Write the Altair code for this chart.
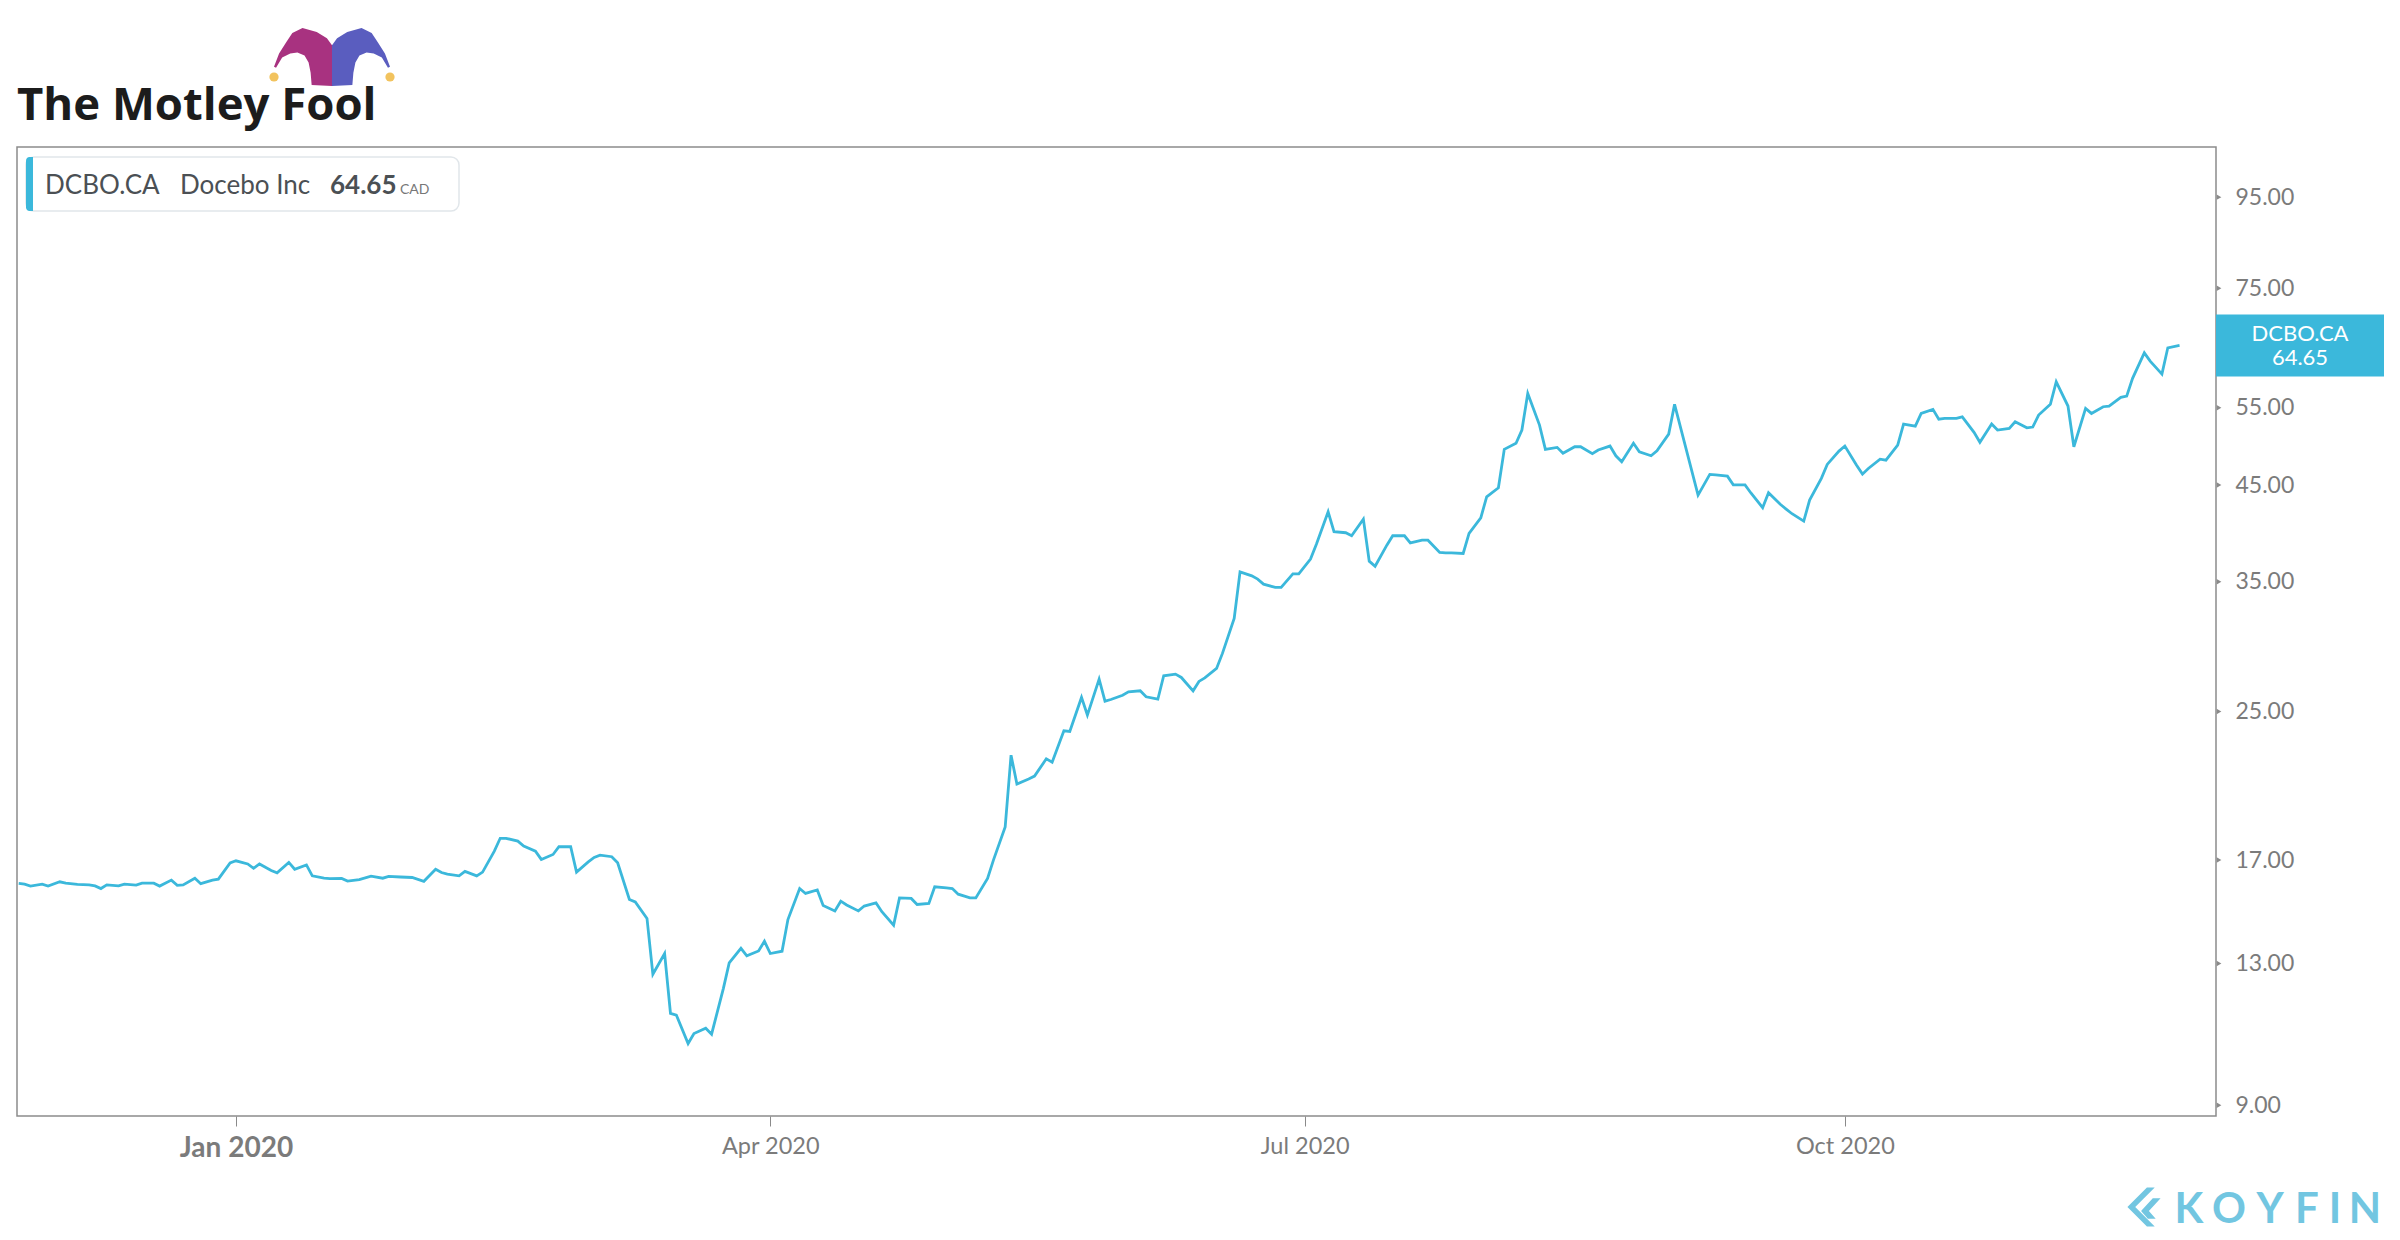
import altair as alt
import pandas as pd

# ---------------- data ----------------
dates = [
    "2019-11-25", "2019-11-26", "2019-11-27", "2019-11-29", "2019-11-30",
    "2019-12-02", "2019-12-03", "2019-12-05", "2019-12-07", "2019-12-08",
    "2019-12-09", "2019-12-10", "2019-12-12", "2019-12-13", "2019-12-15",
    "2019-12-16", "2019-12-18", "2019-12-19", "2019-12-21", "2019-12-22",
    "2019-12-23", "2019-12-25", "2019-12-26", "2019-12-28", "2019-12-29",
    "2019-12-31", "2020-01-01", "2020-01-03", "2020-01-04", "2020-01-05",
    "2020-01-07", "2020-01-08", "2020-01-10", "2020-01-11", "2020-01-13",
    "2020-01-14", "2020-01-16", "2020-01-17", "2020-01-19", "2020-01-20",
    "2020-01-22", "2020-01-24", "2020-01-26", "2020-01-27", "2020-01-29",
    "2020-01-31", "2020-02-02", "2020-02-04", "2020-02-05", "2020-02-06",
    "2020-02-08", "2020-02-09", "2020-02-11", "2020-02-12", "2020-02-14",
    "2020-02-15", "2020-02-16", "2020-02-18", "2020-02-19", "2020-02-21",
    "2020-02-22", "2020-02-24", "2020-02-25", "2020-02-27", "2020-02-28",
    "2020-03-01", "2020-03-02", "2020-03-03", "2020-03-05", "2020-03-06",
    "2020-03-08", "2020-03-09", "2020-03-11", "2020-03-12", "2020-03-14",
    "2020-03-15", "2020-03-16", "2020-03-18", "2020-03-19", "2020-03-21",
    "2020-03-22", "2020-03-24", "2020-03-25", "2020-03-27", "2020-03-28",
    "2020-03-30", "2020-03-31", "2020-04-01", "2020-04-03", "2020-04-04",
    "2020-04-06", "2020-04-07", "2020-04-09", "2020-04-10", "2020-04-12",
    "2020-04-13", "2020-04-14", "2020-04-16", "2020-04-17", "2020-04-19",
    "2020-04-20", "2020-04-22", "2020-04-23", "2020-04-25", "2020-04-26",
    "2020-04-28", "2020-04-29", "2020-05-01", "2020-05-02", "2020-05-03",
    "2020-05-05", "2020-05-06", "2020-05-08", "2020-05-09", "2020-05-11",
    "2020-05-12", "2020-05-13", "2020-05-15", "2020-05-16", "2020-05-18",
    "2020-05-19", "2020-05-21", "2020-05-22", "2020-05-24", "2020-05-25",
    "2020-05-27", "2020-05-28", "2020-05-29", "2020-05-31", "2020-06-01",
    "2020-06-03", "2020-06-04", "2020-06-06", "2020-06-07", "2020-06-09",
    "2020-06-10", "2020-06-12", "2020-06-13", "2020-06-14", "2020-06-16",
    "2020-06-17", "2020-06-19", "2020-06-20", "2020-06-22", "2020-06-23",
    "2020-06-24", "2020-06-26", "2020-06-27", "2020-06-29", "2020-06-30",
    "2020-07-02", "2020-07-03", "2020-07-05", "2020-07-06", "2020-07-08",
    "2020-07-09", "2020-07-11", "2020-07-12", "2020-07-13", "2020-07-15",
    "2020-07-16", "2020-07-18", "2020-07-19", "2020-07-21", "2020-07-22",
    "2020-07-24", "2020-07-25", "2020-07-26", "2020-07-28", "2020-07-29",
    "2020-07-31", "2020-08-01", "2020-08-03", "2020-08-04", "2020-08-06",
    "2020-08-07", "2020-08-08", "2020-08-10", "2020-08-11", "2020-08-13",
    "2020-08-14", "2020-08-16", "2020-08-17", "2020-08-19", "2020-08-20",
    "2020-08-22", "2020-08-23", "2020-08-24", "2020-08-26", "2020-08-27",
    "2020-08-29", "2020-08-30", "2020-09-01", "2020-09-02", "2020-09-06",
    "2020-09-08", "2020-09-09", "2020-09-11", "2020-09-12", "2020-09-14",
    "2020-09-15", "2020-09-17", "2020-09-18", "2020-09-20", "2020-09-21",
    "2020-09-22", "2020-09-24", "2020-09-25", "2020-09-27", "2020-09-28",
    "2020-09-30", "2020-10-01", "2020-10-03", "2020-10-04", "2020-10-05",
    "2020-10-07", "2020-10-08", "2020-10-10", "2020-10-11", "2020-10-13",
    "2020-10-14", "2020-10-16", "2020-10-17", "2020-10-18", "2020-10-20",
    "2020-10-21", "2020-10-23", "2020-10-24", "2020-10-26", "2020-10-27",
    "2020-10-29", "2020-10-30", "2020-11-01", "2020-11-02", "2020-11-03",
    "2020-11-05", "2020-11-06", "2020-11-08", "2020-11-09", "2020-11-11",
    "2020-11-12", "2020-11-14", "2020-11-15", "2020-11-17", "2020-11-18",
    "2020-11-19", "2020-11-21", "2020-11-22", "2020-11-24", "2020-11-25",
    "2020-11-27",
]

prices = [
    16.00, 15.97, 15.89, 15.97, 15.89,
    16.07, 16.01, 15.96, 15.94, 15.90,
    15.79, 15.94, 15.90, 15.97, 15.93,
    16.01, 16.01, 15.89, 16.14, 15.92,
    15.94, 16.22, 15.99, 16.14, 16.18,
    16.88, 16.97, 16.83, 16.64, 16.83,
    16.55, 16.45, 16.90, 16.60, 16.79,
    16.32, 16.22, 16.20, 16.21, 16.10,
    16.16, 16.31, 16.22, 16.30, 16.27,
    16.25, 16.09, 16.60, 16.46, 16.39,
    16.32, 16.51, 16.32, 16.48, 17.40,
    17.99, 17.99, 17.86, 17.63, 17.40,
    17.03, 17.25, 17.60, 17.60, 16.48,
    16.92, 17.12, 17.22, 17.15, 16.88,
    15.35, 15.25, 14.61, 12.64, 13.34,
    11.42, 11.37, 10.56, 10.84, 10.99,
    10.82, 12.18, 13.02, 13.52, 13.26,
    13.43, 13.77, 13.34, 13.42, 14.57,
    15.79, 15.59, 15.73, 15.11, 14.90,
    15.28, 15.13, 14.90, 15.09, 15.21,
    14.87, 14.36, 15.41, 15.39, 15.15,
    15.19, 15.86, 15.82, 15.79, 15.56,
    15.41, 15.41, 16.21, 17.00, 18.53,
    22.32, 20.71, 20.98, 21.14, 22.11,
    21.92, 23.78, 23.74, 25.93, 24.77,
    27.19, 25.68, 25.79, 26.08, 26.31,
    26.38, 25.97, 25.81, 27.43, 27.55,
    27.31, 26.38, 27.03, 27.28, 27.96,
    29.07, 31.83, 35.92, 35.55, 35.25,
    34.79, 34.50, 34.50, 35.73, 35.73,
    37.13, 38.60, 41.98, 39.86, 39.76,
    39.45, 41.19, 36.93, 36.45, 38.50,
    39.45, 39.45, 38.73, 39.00, 39.00,
    37.78, 37.74, 37.74, 37.68, 39.69,
    41.33, 43.65, 44.68, 49.37, 50.15,
    51.90, 57.08, 52.58, 49.37, 49.62,
    48.86, 49.70, 49.70, 48.81, 49.28,
    49.79, 48.55, 47.80, 50.15, 49.06,
    48.55, 49.19, 51.36, 55.48, 43.84,
    46.26, 46.21, 46.05, 45.02, 45.02,
    44.08, 42.43, 44.12, 42.81, 42.28,
    41.77, 40.98, 43.27, 45.78, 47.47,
    49.14, 49.79, 47.38, 46.29, 46.98,
    48.13, 48.00, 49.92, 52.72, 52.44,
    54.19, 54.76, 53.39, 53.49, 53.49,
    53.72, 51.59, 50.28, 52.72, 51.90,
    52.13, 53.03, 52.21, 52.31, 53.96,
    55.48, 58.83, 55.24, 49.70, 54.90,
    54.19, 55.14, 55.24, 56.49, 56.68,
    59.36, 63.42, 62.07, 60.01, 64.25,
    64.65,
]

y_ticks = [9, 13, 17, 25, 35, 45, 55, 75, 95]
x_tick_months = [(2020, 1), (2020, 4), (2020, 7), (2020, 10)]
ticker = "DCBO.CA"
company = "Docebo Inc"
currency = "CAD"
brand = "The Motley Fool"
vendor_letters = ["K", "O", "Y", "F", "I", "N"]

# ---------------- styling / layout ----------------
BLUE = "#3bb8db"
GREY = "#7b7b7b"
FONT = "Lato"
W, H = 2199, 969
vendor_letter_x = [2172, 2212, 2253, 2290, 2318, 2348]   # logo layout (pixels)

df = pd.DataFrame({"date": pd.to_datetime(dates), "price": prices})
last_price = prices[-1]

x_scale = alt.Scale(domain=[alt.DateTime(year=2019, month=11, date=24, hours=17),
                            alt.DateTime(year=2020, month=12, date=3, hours=5)])
y_scale = alt.Scale(type="log", domain=[8.75, 108.2])

line = alt.Chart(df).mark_line(color=BLUE, strokeWidth=2.8).encode(
    x=alt.X("date:T", scale=x_scale, axis=alt.Axis(
        values=[alt.DateTime(year=y, month=m, date=1) for y, m in x_tick_months],
        format="%b %Y", title=None, grid=False, domain=False,
        ticks=True, tickSize=10, tickColor="#8a8a8a", tickWidth=1,
        labelColor=GREY, labelFont=FONT, labelPadding=8, labelFlush=False,
        labelFontSize=alt.condition("month(datum.value) == 0", alt.value(28), alt.value(23.5)),
        labelFontWeight=alt.condition("month(datum.value) == 0", alt.value("bold"), alt.value("normal")),
    )),
    y=alt.Y("price:Q", scale=y_scale, axis=alt.Axis(
        orient="right", values=y_ticks, format=".2f", title=None, grid=False,
        domain=False, ticks=False, labelPadding=19, labelColor=GREY,
        labelFont=FONT, labelFontSize=23,
    )),
)

tri = alt.Chart(pd.DataFrame({"tick": y_ticks})).mark_point(
    shape="triangle-right", filled=True, size=30, color="#8a8a8a", opacity=1
).encode(x=alt.value(W + 3), y=alt.Y("tick:Q", scale=y_scale, axis=None))

last_df = pd.DataFrame({"price": [last_price], "t1": [ticker], "t2": [f"{last_price:.2f}"]})
price_box = alt.Chart(last_df).mark_rule(color=BLUE, strokeWidth=62, strokeCap="butt").encode(
    x=alt.value(W), x2=alt.value(W + 168), y=alt.Y("price:Q", scale=y_scale, axis=None))
price_t1 = alt.Chart(last_df).mark_text(color="white", font=FONT, fontSize=22, dy=-11,
                                        align="center", baseline="middle").encode(
    x=alt.value(W + 84), y=alt.Y("price:Q", scale=y_scale, axis=None), text="t1:N")
price_t2 = alt.Chart(last_df).mark_text(color="white", font=FONT, fontSize=22, dy=13,
                                        align="center", baseline="middle").encode(
    x=alt.value(W + 84), y=alt.Y("price:Q", scale=y_scale, axis=None), text="t2:N")

one = pd.DataFrame({"k": [0]})

legend_bg = alt.Chart(one).mark_rect(fill="white", stroke="#e1e6ea", strokeWidth=1.5,
                                     cornerRadius=8).encode(
    x=alt.value(9), x2=alt.value(442), y=alt.value(10), y2=alt.value(64))
legend_acc = alt.Chart(one).mark_rect(fill=BLUE, cornerRadiusTopLeft=8,
                                      cornerRadiusBottomLeft=8).encode(
    x=alt.value(9), x2=alt.value(16), y=alt.value(10), y2=alt.value(64))


def label(txt, x, y, size, weight="normal", color="#4b5054", font=FONT, align="left"):
    return alt.Chart(one).mark_text(text=txt, font=font, fontSize=size, fontWeight=weight,
                                    color=color, align=align, baseline="alphabetic").encode(
        x=alt.value(x), y=alt.value(y))


leg_t1 = label(ticker, 28, 47, 26)
leg_t2 = label(company, 163, 47, 26)
leg_t3 = label(f"{last_price:.2f}", 313, 47, 26, weight="bold")
leg_t4 = label(currency, 383, 47, 14, color="#777777")

# ---- Motley Fool logo ----
logo_text = label(brand, 0, -27, 45.5, weight="bold", color="#1c1c1c", font="Open Sans")
left_horn = ("M-1,0.333 L-0.825,-0.123 L-0.579,-0.509 L-0.368,-0.825 L-0.018,-1 "
             "L0.474,-0.86 L0.825,-0.649 L1,-0.404 L1,1 L0.298,0.965 L0.263,0.544 "
             "L0.193,0.193 L0.053,-0.053 L-0.193,-0.158 L-0.439,-0.123 L-0.719,0.018 "
             "L-0.93,0.368 Z")
right_horn = ("M1,0.333 L0.825,-0.123 L0.579,-0.509 L0.368,-0.825 L0.018,-1 "
              "L-0.474,-0.86 L-0.825,-0.649 L-1,-0.404 L-1,1 L-0.298,0.965 L-0.263,0.544 "
              "L-0.193,0.193 L-0.053,-0.053 L0.193,-0.158 L0.439,-0.123 L0.719,0.018 "
              "L0.93,0.368 Z")
hat_l = alt.Chart(one).mark_point(shape=left_horn, filled=True, size=3364, color="#a83280",
                                  opacity=1, strokeWidth=0).encode(
    x=alt.value(286), y=alt.value(-90))
hat_r = alt.Chart(one).mark_point(shape=right_horn, filled=True, size=3364, color="#5a5dbf",
                                  opacity=1, strokeWidth=0).encode(
    x=alt.value(344), y=alt.value(-90))
dot_l = alt.Chart(one).mark_point(shape="circle", filled=True, size=85, color="#f2c35e",
                                  opacity=1).encode(x=alt.value(257), y=alt.value(-70))
dot_r = alt.Chart(one).mark_point(shape="circle", filled=True, size=85, color="#f2c35e",
                                  opacity=1).encode(x=alt.value(373), y=alt.value(-70))

# ---- Koyfin logo ----
koy_icon_path = ("M0.15,-1 L0.55,-1 L-0.45,0 L0.55,1 L0.15,1 L-0.85,0 Z "
                 "M0.45,-0.45 L0.85,-0.45 L0.25,0.2 L0.6,0.6 L0.2,0.6 L-0.15,0.2 Z")
koy_icon = alt.Chart(one).mark_point(shape=koy_icon_path, filled=True, size=1521,
                                     color="#72c6e1", opacity=1, strokeWidth=0).encode(
    x=alt.value(2127), y=alt.value(1060))
koy_letters = [label(ch, cx, 1076, 42, weight="bold", color="#72c6e1", align="center")
               for ch, cx in zip(vendor_letters, vendor_letter_x)]

chart = alt.layer(
    legend_bg, legend_acc, leg_t1, leg_t2, leg_t3, leg_t4,
    line, tri, price_box, price_t1, price_t2,
    logo_text, hat_l, hat_r, dot_l, dot_r, koy_icon, *koy_letters,
).resolve_axis(
    y="independent", x="independent"
).properties(
    width=W, height=H,
    autosize=alt.AutoSizeParams(type="none"),
    padding={"left": 9, "top": 139, "right": 176, "bottom": 116},
    background="white",
).configure_view(stroke="#8c8c8c", strokeWidth=1.5)

chart.save("out.html", embed_options={"renderer": "svg", "actions": False})
